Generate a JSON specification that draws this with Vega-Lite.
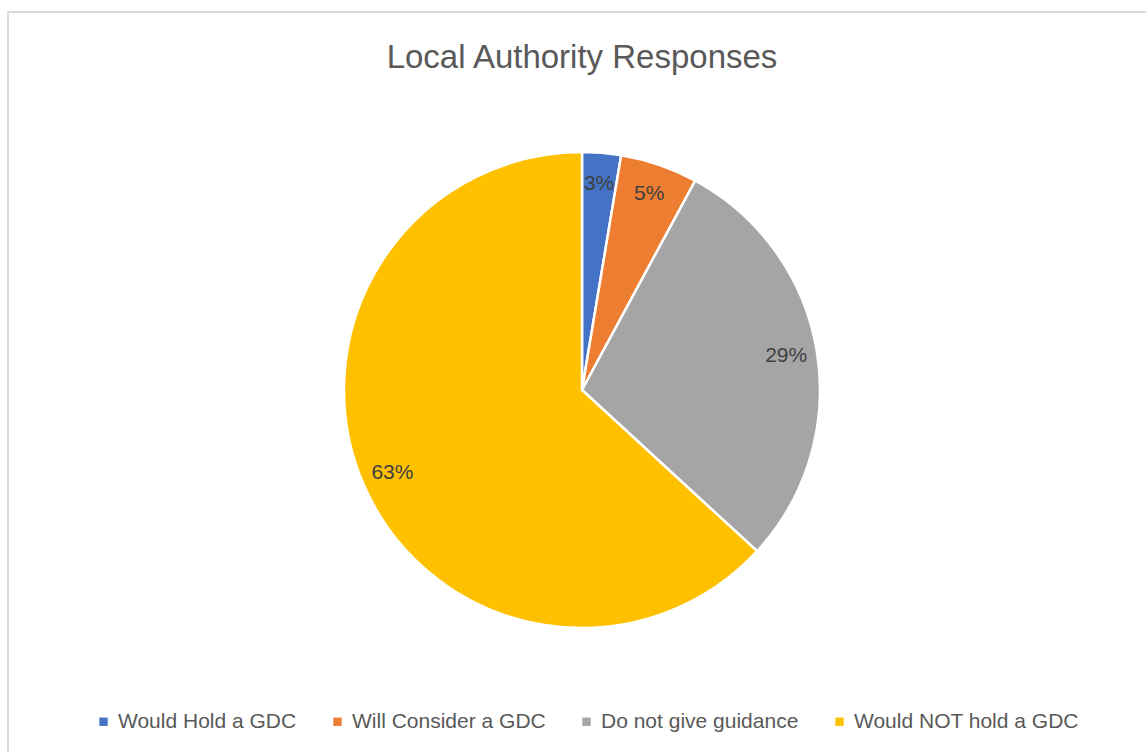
{
  "$schema": "https://vega.github.io/schema/vega-lite/v6.json",
  "width": 1148,
  "height": 756,
  "autosize": {"type": "none"},
  "padding": {"left": 8, "top": 12, "right": -10, "bottom": -16},
  "background": "white",
  "view": {"stroke": "#d9d9d9", "strokeWidth": 2},
  "title": {
    "text": "Local Authority Responses",
    "font": "Liberation Sans",
    "fontSize": 33,
    "fontWeight": "normal",
    "color": "#595959",
    "anchor": "middle",
    "baseline": "alphabetic",
    "offset": -89
  },
  "data": {
    "values": [
      {"category": "Would Hold a GDC", "count": 1, "label": "3%", "idx": 1},
      {"category": "Will Consider a GDC", "count": 2, "label": "5%", "idx": 2},
      {"category": "Do not give guidance", "count": 11, "label": "29%", "idx": 3},
      {"category": "Would NOT hold a GDC", "count": 24, "label": "63%", "idx": 4}
    ]
  },
  "encoding": {
    "theta": {"field": "count", "type": "quantitative", "stack": true},
    "order": {"field": "idx", "type": "quantitative"}
  },
  "layer": [
    {
      "mark": {"type": "arc", "outerRadius": 238, "stroke": "white", "strokeWidth": 2.5},
      "encoding": {
        "color": {
          "field": "category",
          "type": "nominal",
          "sort": ["Would Hold a GDC", "Will Consider a GDC", "Do not give guidance", "Would NOT hold a GDC"],
          "scale": {
            "domain": ["Would Hold a GDC", "Will Consider a GDC", "Do not give guidance", "Would NOT hold a GDC"],
            "range": ["#4472C4", "#ED7D31", "#A5A5A5", "#FFC000"]
          },
          "legend": {
            "orient": "none",
            "legendX": 85,
            "legendY": 699,
            "direction": "horizontal",
            "title": null,
            "labelFont": "Liberation Sans",
            "labelFontSize": 21,
            "labelColor": "#595959",
            "symbolType": "square",
            "symbolSize": 70,
            "symbolStrokeWidth": 0,
            "columnPadding": 30,
            "labelOffset": 4,
            "labelLimit": 400
          }
        }
      }
    },
    {
      "mark": {"type": "text", "radius": 207, "font": "Liberation Sans", "fontSize": 21, "align": "center", "baseline": "middle"},
      "encoding": {
        "text": {"field": "label", "type": "nominal"},
        "color": {"value": "#404040"}
      }
    }
  ]
}
